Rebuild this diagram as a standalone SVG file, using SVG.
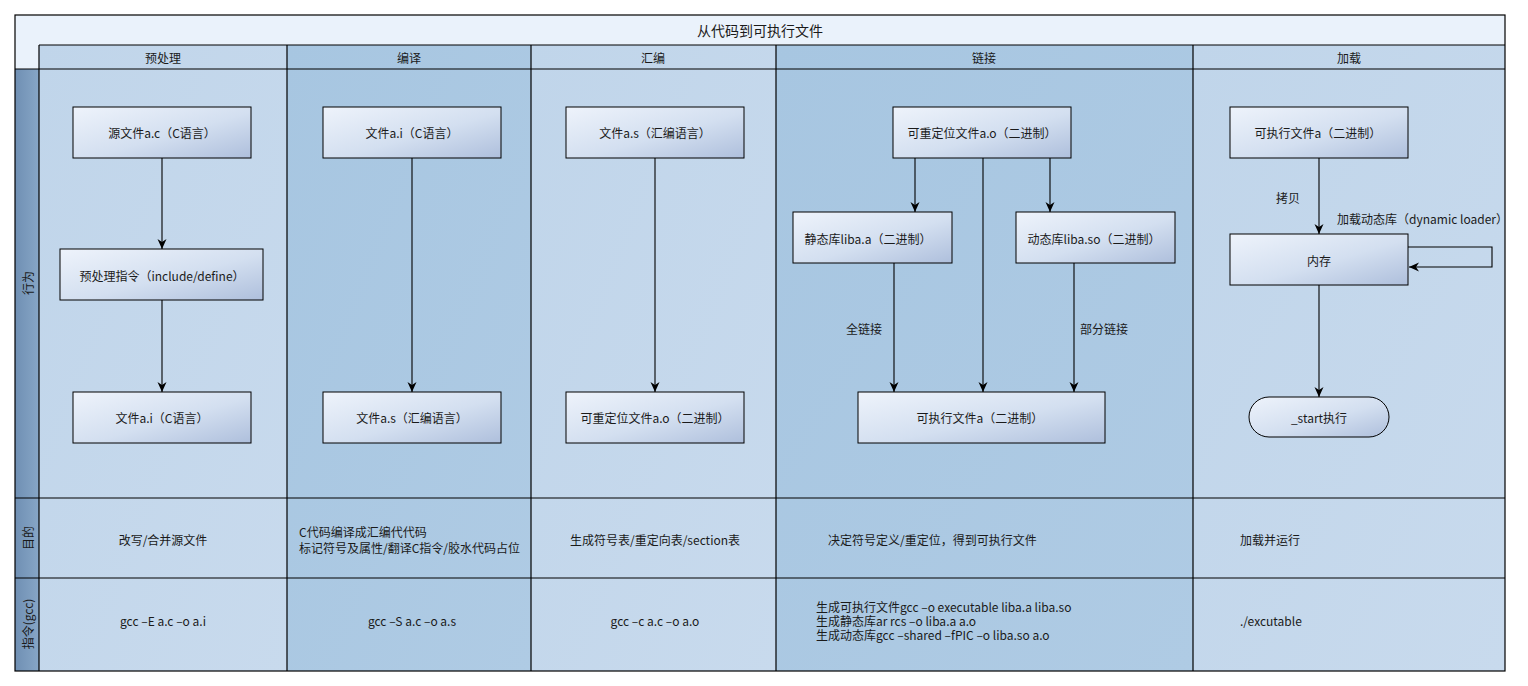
<svg xmlns="http://www.w3.org/2000/svg" width="1528" height="686" viewBox="0 0 1528 686">
<defs>
<linearGradient id="ng" x1="0" y1="0" x2="1" y2="1">
<stop offset="0" stop-color="#eef3fb"/>
<stop offset="0.55" stop-color="#d3dff0"/>
<stop offset="1" stop-color="#aebfdc"/>
</linearGradient>
<linearGradient id="lg" x1="0" y1="0" x2="1" y2="0">
<stop offset="0" stop-color="#6f8fb3"/>
<stop offset="1" stop-color="#87a6c6"/>
</linearGradient>
<linearGradient id="lightLane" x1="0" y1="0" x2="1" y2="1">
<stop offset="0" stop-color="#c0d5ea"/>
<stop offset="1" stop-color="#c8daed"/>
</linearGradient>
<linearGradient id="darkLane" x1="0" y1="0" x2="1" y2="1">
<stop offset="0" stop-color="#a7c6e1"/>
<stop offset="1" stop-color="#afcbe4"/>
</linearGradient>
<marker id="ar" viewBox="0 0 10 10" refX="10" refY="5" markerWidth="10" markerHeight="10" orient="auto" markerUnits="userSpaceOnUse">
<path d="M0,0.5 L10,5 L0,9.5 L3,5 z" fill="#000"/>
</marker>
</defs>
<style>
text{font-family:"Noto Sans CJK SC","Liberation Sans",sans-serif;font-size:12px;fill:#1a1a1a}
.c{text-anchor:middle;dominant-baseline:central}
.l{dominant-baseline:central}
.grid{fill:none;stroke:#000;stroke-width:1.2}
.node{fill:url(#ng);stroke:#000;stroke-width:1}
.edge{fill:none;stroke:#000;stroke-width:1.1;marker-end:url(#ar)}
</style>
<rect width="1528" height="686" fill="#ffffff"/>
<g id="lanes">
<rect x="15" y="15" width="1490" height="30" fill="#eaf2fb"/>
<rect x="15" y="45" width="24" height="24" fill="#eaf2fb"/>
<rect x="15" y="69" width="24" height="602" fill="url(#lg)"/>
<rect x="39" y="45" width="248" height="626" fill="url(#lightLane)"/>
<rect x="287" y="45" width="244" height="626" fill="url(#darkLane)"/>
<rect x="531" y="45" width="245" height="626" fill="url(#lightLane)"/>
<rect x="776" y="45" width="417" height="626" fill="url(#darkLane)"/>
<rect x="1193" y="45" width="312" height="626" fill="url(#lightLane)"/>
<rect x="15" y="15" width="1490" height="656" class="grid"/>
<path class="grid" d="M39,45 H1505 M15,69 H1505 M15,498 H1505 M15,578 H1505 M39,45 V671 M287,45 V671 M531,45 V671 M776,45 V671 M1193,45 V671"/>
<text class="c" x="760" y="30" style="font-size:14px">从代码到可执行文件</text>
<text class="c" x="163" y="57">预处理</text>
<text class="c" x="409" y="57">编译</text>
<text class="c" x="653" y="57">汇编</text>
<text class="c" x="984" y="57">链接</text>
<text class="c" x="1349" y="57">加载</text>
<text class="c" transform="translate(27,283) rotate(-90)">行为</text>
<text class="c" transform="translate(27,538) rotate(-90)">目的</text>
<text class="c" transform="translate(27,624) rotate(-90)">指令(gcc)</text>
</g>
<g id="edges">
<path class="edge" d="M162,158 V249"/>
<path class="edge" d="M162,300 V392"/>
<path class="edge" d="M412,158 V392"/>
<path class="edge" d="M655,158 V392"/>
<path class="edge" d="M915,158 V212"/>
<path class="edge" d="M1050,158 V212"/>
<path class="edge" d="M983,158 V392"/>
<path class="edge" d="M894,263 V392"/>
<path class="edge" d="M1074,263 V392"/>
<path class="edge" d="M1319,158 V234"/>
<path class="edge" d="M1319,285 V397"/>
<path class="edge" d="M1408,247 H1492 V267 H1409"/>
<text class="c" x="864" y="328">全链接</text>
<text class="c" x="1104" y="328">部分链接</text>
<text class="c" x="1288" y="197">拷贝</text>
<text class="l" x="1337" y="218">加载动态库（dynamic loader）</text>
</g>
<g id="n1"><rect class="node" x="73" y="107" width="178" height="51"/><text class="c" x="162" y="132">源文件a.c（C语言）</text></g>
<g id="n2"><rect class="node" x="60" y="249" width="203" height="51"/><text class="c" x="162" y="275">预处理指令（include/define）</text></g>
<g id="n3"><rect class="node" x="73" y="392" width="178" height="51"/><text class="c" x="162" y="417">文件a.i（C语言）</text></g>
<g id="n4"><rect class="node" x="323" y="107" width="178" height="51"/><text class="c" x="412" y="132">文件a.i（C语言）</text></g>
<g id="n5"><rect class="node" x="323" y="392" width="178" height="51"/><text class="c" x="412" y="417">文件a.s（汇编语言）</text></g>
<g id="n6"><rect class="node" x="566" y="107" width="178" height="51"/><text class="c" x="655" y="132">文件a.s（汇编语言）</text></g>
<g id="n7"><rect class="node" x="566" y="392" width="178" height="51"/><text class="c" x="655" y="417">可重定位文件a.o（二进制）</text></g>
<g id="n8"><rect class="node" x="893" y="107" width="178" height="51"/><text class="c" x="982" y="132">可重定位文件a.o（二进制）</text></g>
<g id="n9"><rect class="node" x="793" y="212" width="159" height="51"/><text class="c" x="868" y="238">静态库liba.a（二进制）</text></g>
<g id="n10"><rect class="node" x="1016" y="212" width="159" height="51"/><text class="c" x="1094" y="238">动态库liba.so（二进制）</text></g>
<g id="n11"><rect class="node" x="858" y="392" width="247" height="51"/><text class="c" x="980" y="417">可执行文件a（二进制）</text></g>
<g id="n12"><rect class="node" x="1230" y="107" width="178" height="51"/><text class="c" x="1318" y="132">可执行文件a（二进制）</text></g>
<g id="n13"><rect class="node" x="1230" y="234" width="178" height="51"/><text class="c" x="1319" y="260">内存</text></g>
<g id="n14"><rect class="node" x="1249" y="397" width="140" height="40" rx="20" ry="20"/><text class="c" x="1319" y="417">_start执行</text></g>
<g id="purpose">
<text class="c" x="163" y="539">改写/合并源文件</text>
<text class="l" x="299" y="531">C代码编译成汇编代代码</text>
<text class="l" x="299" y="547">标记符号及属性/翻译C指令/胶水代码占位</text>
<text class="c" x="655" y="539">生成符号表/重定向表/section表</text>
<text class="l" x="828" y="539">决定符号定义/重定位，得到可执行文件</text>
<text class="l" x="1240" y="539">加载并运行</text>
</g>
<g id="commands">
<text class="c" x="163" y="620">gcc –E a.c –o a.i</text>
<text class="c" x="412" y="620">gcc –S a.c –o a.s</text>
<text class="c" x="655" y="620">gcc –c a.c –o a.o</text>
<text class="l" x="816" y="606">生成可执行文件gcc –o executable liba.a liba.so</text>
<text class="l" x="816" y="620">生成静态库ar rcs –o liba.a a.o</text>
<text class="l" x="816" y="634">生成动态库gcc –shared –fPIC –o liba.so a.o</text>
<text class="l" x="1240" y="620">./excutable</text>
</g>
</svg>
